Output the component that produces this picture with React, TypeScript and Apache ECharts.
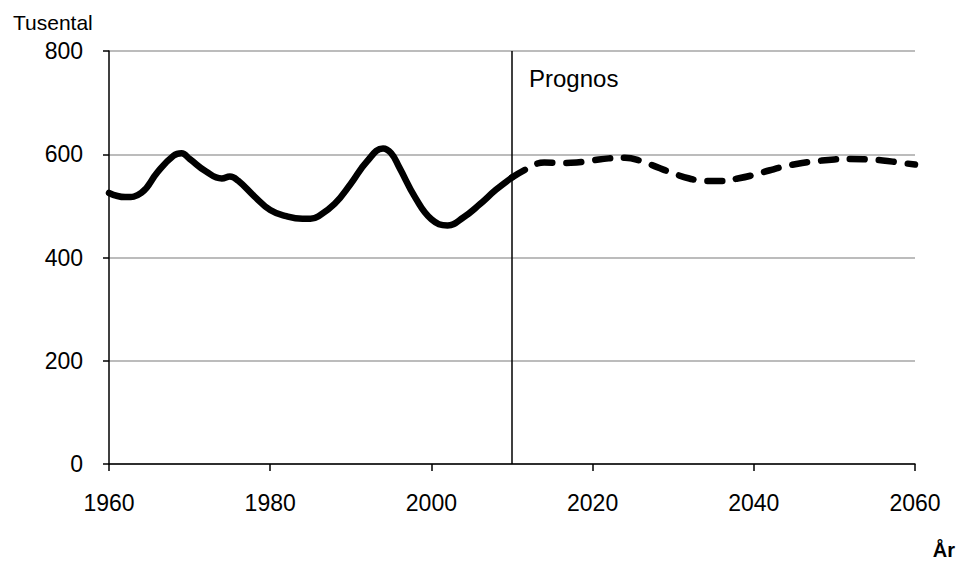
import React, { useEffect, useRef } from "react";
import * as echarts from "echarts";

const histYears = [1960, 1962, 1964, 1966, 1968, 1969, 1970, 1972, 1974, 1975, 1976, 1978, 1980, 1982, 1984, 1985, 1986, 1988, 1990, 1992, 1994, 1995, 1996, 1998, 2000, 2002, 2004, 2006, 2008, 2010];
const histValues = [525, 517, 525, 565, 597, 602, 591, 567, 553, 557, 549, 519, 492, 480, 475, 475, 480, 504, 543, 586, 611, 602, 575, 516, 474, 462, 478, 503, 531, 555];

const progYears = [2010, 2012, 2014, 2016, 2018, 2020, 2022, 2024, 2026, 2028, 2030, 2032, 2034, 2036, 2038, 2040, 2042, 2044, 2046, 2048, 2050, 2052, 2054, 2056, 2058, 2060];
const progValues = [555, 573, 584, 583, 584, 588, 592, 593, 587, 575, 563, 553, 548, 548, 553, 560, 569, 577, 583, 587, 590, 591, 590, 588, 584, 580];

const xTicks = [1960, 1980, 2000, 2020, 2040, 2060];
const yTicks = [0, 200, 400, 600, 800];
const prognosYear = 2010;

const FONT = "'Liberation Sans', Arial, sans-serif";

export default function App() {
  const ref = useRef<HTMLDivElement>(null);
  useEffect(() => {
    if (!ref.current) return;
    const chart = echarts.init(ref.current, null, { renderer: "svg" });
    const hist = histYears.map((y, i) => [y, histValues[i]]);
    const prog = progYears.map((y, i) => [y, progValues[i]]);
    chart.setOption({
      animation: false,
      backgroundColor: "#ffffff",
      textStyle: { fontFamily: FONT },
      grid: { left: 109, right: 42, top: 51, bottom: 97, containLabel: false },
      xAxis: {
        type: "value",
        min: xTicks[0],
        max: xTicks[xTicks.length - 1],
        interval: 20,
        axisLine: { show: true, lineStyle: { color: "#000", width: 1.5 } },
        axisTick: { show: true, length: 7, lineStyle: { color: "#000", width: 1.5 } },
        axisLabel: {
          color: "#000",
          fontSize: 23,
          fontFamily: FONT,
          margin: 27,
          formatter: (v: number) => String(v),
        },
        splitLine: { show: false },
      },
      yAxis: {
        type: "value",
        min: yTicks[0],
        max: yTicks[yTicks.length - 1],
        interval: 200,
        axisLine: { show: true, lineStyle: { color: "#000", width: 1.5 } },
        axisTick: { show: true, length: 6, lineStyle: { color: "#000", width: 1.5 } },
        axisLabel: {
          color: "#000",
          fontSize: 23,
          fontFamily: FONT,
          margin: 26,
          formatter: (v: number) => String(v),
        },
        splitLine: { show: true, lineStyle: { color: "#a6a6a6", width: 1.5 } },
      },
      series: [
        {
          type: "line",
          data: hist,
          smooth: 0.45,
          showSymbol: false,
          symbol: "none",
          lineStyle: { color: "#000", width: 6.5, cap: "round", join: "round" },
          markLine: {
            silent: true,
            symbol: "none",
            label: { show: false },
            lineStyle: { color: "#000", width: 1.5, type: "solid" },
            data: [[{ coord: [prognosYear, 0] }, { coord: [prognosYear, 800] }]],
          },
          z: 3,
        },
        {
          type: "line",
          data: prog,
          smooth: 0.45,
          showSymbol: false,
          symbol: "none",
          lineStyle: { color: "#000", width: 6.5, type: [15, 14], cap: "round", join: "round" },
          z: 3,
        },
      ],
      graphic: [
        {
          type: "text",
          left: 13,
          top: 12,
          style: { text: "Tusental", fontSize: 21, fontFamily: FONT, fill: "#000" },
        },
        {
          type: "text",
          left: 529,
          top: 66,
          style: { text: "Prognos", fontSize: 24, fontFamily: FONT, fill: "#000" },
        },
        {
          type: "text",
          right: 2,
          top: 540,
          style: { text: "År", fontSize: 20, fontWeight: "bold", fontFamily: FONT, fill: "#000" },
        },
      ],
    });
    return () => chart.dispose();
  }, []);
  return (
    <div
      ref={ref}
      style={{ position: "fixed", left: 0, top: 0, width: 957, height: 561, background: "#fff" }}
    />
  );
}
